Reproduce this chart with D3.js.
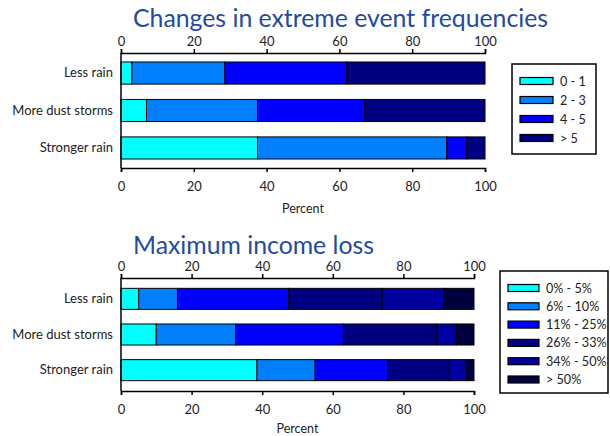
<!DOCTYPE html>
<html>
<head>
<meta charset="utf-8">
<script src="https://cdn.jsdelivr.net/npm/d3@7"></script>
<style>
  body { margin: 0; background: #fff; }
  text { font-family: Lato, "Open Sans", sans-serif; fill: #222; }
</style>
</head>
<body>
<svg width="610" height="436"></svg>
<script>
var categories = ["Less rain", "More dust storms", "Stronger rain"];
var ticks = [0, 20, 40, 60, 80, 100];

// top chart: number of extreme events
var freqKeys = ["0 - 1", "2 - 3", "4 - 5", "> 5"];
var freqColors = ["#00ffff", "#0080ff", "#0000ff", "#000080"];
var freqLessRain = [3, 25.5, 33.5, 38];
var freqDust = [7, 30.5, 29.5, 33];
var freqStrongRain = [37.5, 52, 5.5, 5];

// bottom chart: maximum income loss
var lossKeys = ["0% - 5%", "6% - 10%", "11% - 25%", "26% - 33%", "34% - 50%", "> 50%"];
var lossColors = ["#00ffff", "#0080ff", "#0000ff", "#000080", "#0000a0", "#000040"];
var lossLessRain = [5, 11, 31.5, 26.5, 17.5, 8.5];
var lossDust = [10, 22.5, 30.5, 26.5, 5.5, 5];
var lossStrongRain = [38.5, 16.5, 20.5, 17.5, 5, 2];

var svg = d3.select("svg");

function drawChart(opt) {
  var rows = categories.map(function(c, i) {
    var r = {cat: c};
    opt.keys.forEach(function(k, j) { r[k] = opt.values[i][j]; });
    return r;
  });
  var x = d3.scaleLinear().domain([0, 100]).range(opt.xr);
  var y = d3.scaleBand().domain(categories).range(opt.yr)
            .paddingInner(0.41).paddingOuter(opt.outer);
  var color = d3.scaleOrdinal().domain(opt.keys).range(opt.colors);
  var series = d3.stack().keys(opt.keys)(rows);

  var g = svg.append("g");

  g.append("text")
    .attr("x", opt.titleX).attr("y", opt.titleY)
    .style("font-size", "24.8px").style("fill", "#1f4ba0")
    .text(opt.title);

  g.selectAll("g.series")
    .data(series)
    .enter().append("g")
    .attr("fill", function(d) { return color(d.key); })
    .selectAll("rect")
    .data(function(d) { return d; })
    .enter().append("rect")
    .attr("x", function(d) { return x(d[0]); })
    .attr("width", function(d) { return x(d[1]) - x(d[0]); })
    .attr("y", function(d) { return y(d.data.cat); })
    .attr("height", y.bandwidth())
    .attr("stroke", "#000").attr("stroke-width", 1);

  var top = g.append("g").attr("transform", "translate(0," + opt.yr[0] + ")")
    .call(d3.axisTop(x).tickValues(ticks).tickSize(4).tickPadding(3));
  var bot = g.append("g").attr("transform", "translate(0," + opt.yr[1] + ")")
    .call(d3.axisBottom(x).tickValues(ticks).tickSize(4).tickPadding(10));
  var left = g.append("g").attr("transform", "translate(" + opt.xr[0] + ",0)")
    .call(d3.axisLeft(y).tickSize(0).tickPadding(8));
  [top, bot, left].forEach(function(a) {
    a.selectAll("path").attr("stroke", "#000").attr("stroke-width", 1.5);
    a.selectAll("line").attr("stroke", "#000").attr("stroke-width", 1.5);
    a.selectAll("text").style("font-size", "13px").style("fill", "#222")
      .style("font-family", "Lato, sans-serif");
  });
  left.select("path").attr("d", "M0," + opt.yr[0] + "V" + opt.yr[1]);

  g.append("text")
    .attr("x", (opt.xr[0] + opt.xr[1]) / 2).attr("y", opt.percentY)
    .attr("text-anchor", "middle").style("font-size", "12.5px")
    .text("Percent");

  // legend
  var lg = opt.legend;
  g.append("rect")
    .attr("x", lg.x).attr("y", lg.y).attr("width", lg.w).attr("height", lg.h)
    .attr("fill", "none").attr("stroke", "#000").attr("stroke-width", 1.5);
  var item = g.selectAll("g.item")
    .data(opt.keys)
    .enter().append("g")
    .attr("transform", function(d, i) {
      return "translate(" + (lg.x + 8) + "," + (lg.first + i * lg.step) + ")";
    });
  item.append("rect")
    .attr("x", 0).attr("y", -3.5).attr("width", lg.sw).attr("height", 7)
    .attr("fill", function(d) { return color(d); })
    .attr("stroke", "#000").attr("stroke-width", 1.2);
  item.append("text")
    .attr("x", lg.sw + 7).attr("y", 4.5)
    .style("font-size", "12.6px")
    .text(function(d) { return d; });
}

drawChart({
  title: "Changes in extreme event frequencies",
  titleX: 133, titleY: 27,
  keys: freqKeys, colors: freqColors,
  values: [freqLessRain, freqDust, freqStrongRain],
  xr: [121, 485], yr: [53, 168], outer: 0.24,
  percentY: 213,
  legend: {x: 512, y: 64, w: 84, h: 90, first: 81, step: 19, sw: 33}
});

drawChart({
  title: "Maximum income loss",
  titleX: 133, titleY: 254,
  keys: lossKeys, colors: lossColors,
  values: [lossLessRain, lossDust, lossStrongRain],
  xr: [121, 474], yr: [278, 391], outer: 0.29,
  percentY: 433,
  legend: {x: 500, y: 271, w: 108, h: 122, first: 288, step: 18.3, sw: 31}
});
</script>
</body>
</html>
